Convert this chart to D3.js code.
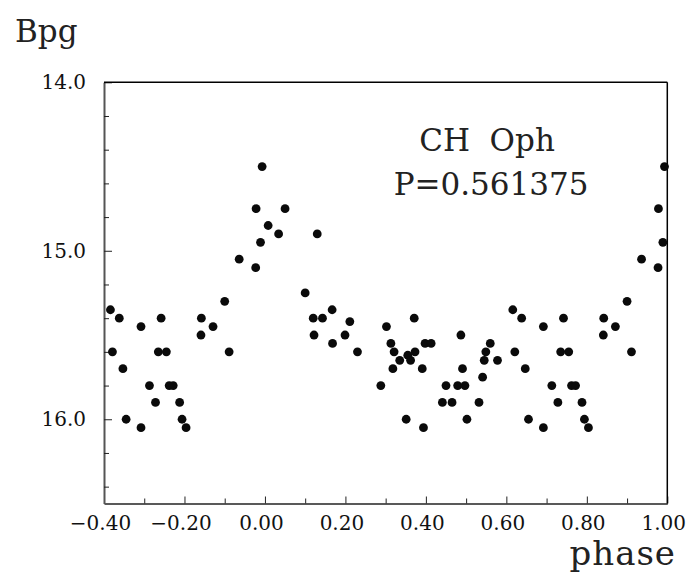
<!DOCTYPE html>
<html><head><meta charset="utf-8">
<script src="https://cdn.jsdelivr.net/npm/d3@7"></script>
<style>body{margin:0;background:#fff}svg{display:block}</style>
</head><body>
<svg id="c" width="688" height="577"></svg>
<script>
// phase-folded photometry of CH Oph (base phases 0..1)
const phases = [0.008,0.034,0.050,0.100,0.120,0.122,0.130,0.143,0.167,0.168,0.199,0.211,0.230,0.288,0.302,0.313,0.318,0.321,0.335,0.351,0.355,0.362,0.371,0.373,0.391,0.394,0.398,0.413,0.441,0.450,0.465,0.479,0.487,0.491,0.497,0.502,0.532,0.541,0.545,0.549,0.560,0.578,0.616,0.621,0.638,0.647,0.655,0.692,0.692,0.713,0.728,0.735,0.742,0.755,0.762,0.772,0.788,0.794,0.804,0.841,0.842,0.871,0.900,0.911,0.936,0.977,0.978,0.989,0.993];
const mags   = [14.85,14.90,14.75,15.25,15.40,15.50,14.90,15.40,15.35,15.55,15.50,15.42,15.60,15.80,15.45,15.55,15.70,15.60,15.65,16.00,15.62,15.65,15.40,15.60,15.70,16.05,15.55,15.55,15.90,15.80,15.90,15.80,15.50,15.70,15.80,16.00,15.90,15.75,15.65,15.60,15.55,15.65,15.35,15.60,15.40,15.70,16.00,15.45,16.05,15.80,15.90,15.60,15.40,15.60,15.80,15.80,15.90,16.00,16.05,15.50,15.40,15.45,15.30,15.60,15.05,15.10,14.75,14.95,14.50];
const xTicks = [-0.4,-0.3,-0.2,-0.1,0,0.1,0.2,0.3,0.4,0.5,0.6,0.7,0.8,0.9,1.0];
const xLabels = [-0.4,-0.2,0,0.2,0.4,0.6,0.8,1.0];
const yTicks = [14.0,14.2,14.4,14.6,14.8,15.0,15.2,15.4,15.6,15.8,16.0,16.2,16.4];
const yLabels = [14.0,15.0,16.0];
const starName = "CH  Oph";
const periodText = "P=0.561375";

const svg = d3.select("#c");
const L=104, R=667.3, T=82.3, B=503.5;
const x = d3.scaleLinear().domain([-0.4,1.0]).range([L,R]);
const y = d3.scaleLinear().domain([14.0,16.5]).range([T,B]);
const font = "DejaVu Serif";
const near = (a,list)=>list.some(v=>Math.abs(v-a)<1e-6);

// x axis
const gx = svg.append("g").attr("transform",`translate(0,${B})`)
  .call(d3.axisBottom(x).tickValues(xTicks).tickSizeOuter(0).tickSizeInner(-5).tickPadding(12)
    .tickFormat(d=>near(d,xLabels)?d3.format(".2f")(d):""));
gx.select(".domain").attr("stroke","#222").attr("stroke-width",1.5);
gx.selectAll(".tick line").attr("stroke","#222").attr("y2",d=>near(d,xLabels)?-7:-5);
gx.selectAll(".tick text").attr("font-family",font).attr("font-size",20).attr("fill","#111").attr("dx",-4);

// y axis
const gy = svg.append("g").attr("transform",`translate(${L},0)`)
  .call(d3.axisLeft(y).tickValues(yTicks).tickSizeOuter(0).tickSizeInner(-5).tickPadding(18)
    .tickFormat(d=>near(d,yLabels)?d3.format(".1f")(d):""));
gy.select(".domain").attr("stroke","#555").attr("stroke-width",2);
gy.selectAll(".tick line").attr("stroke","#222").attr("x2",d=>near(d,yLabels)?8:5);
gy.selectAll(".tick text").attr("font-family",font).attr("font-size",20).attr("fill","#111");

// top & right borders
svg.append("line").attr("x1",x(-0.4)).attr("x2",x(1.0)).attr("y1",y(14)).attr("y2",y(14)).attr("stroke","#000").attr("stroke-width",1.5);
svg.append("line").attr("x1",x(1.0)).attr("x2",x(1.0)).attr("y1",y(14)).attr("y2",y(16.5)).attr("stroke","#000").attr("stroke-width",1.5);

// points: each phase plus its copy shifted by -1 when inside the range
const pts = [];
phases.forEach((p,i)=>{
  pts.push({p:p,m:mags[i]});
  if (p-1 >= -0.4) pts.push({p:p-1,m:mags[i]});
});
svg.append("g").selectAll("circle").data(pts).join("circle")
  .attr("cx",d=>x(d.p)).attr("cy",d=>y(d.m)).attr("r",4.4).attr("fill","#0a0a0a");

// texts
svg.append("text").attr("x",15).attr("y",42).attr("font-family",font).attr("font-size",31).attr("fill","#222").text("Bpg");
svg.append("text").attr("x",676).attr("y",565).attr("text-anchor","end").attr("font-family",font).attr("font-size",34).attr("letter-spacing",1).attr("fill","#222").text("phase");
svg.append("text").attr("x",487).attr("y",151).attr("text-anchor","middle").attr("font-family",font).attr("font-size",31).attr("fill","#222").style("white-space","pre").text(starName);
svg.append("text").attr("x",491).attr("y",195).attr("text-anchor","middle").attr("font-family",font).attr("font-size",31).attr("fill","#222").text(periodText);
</script>
</body></html>
